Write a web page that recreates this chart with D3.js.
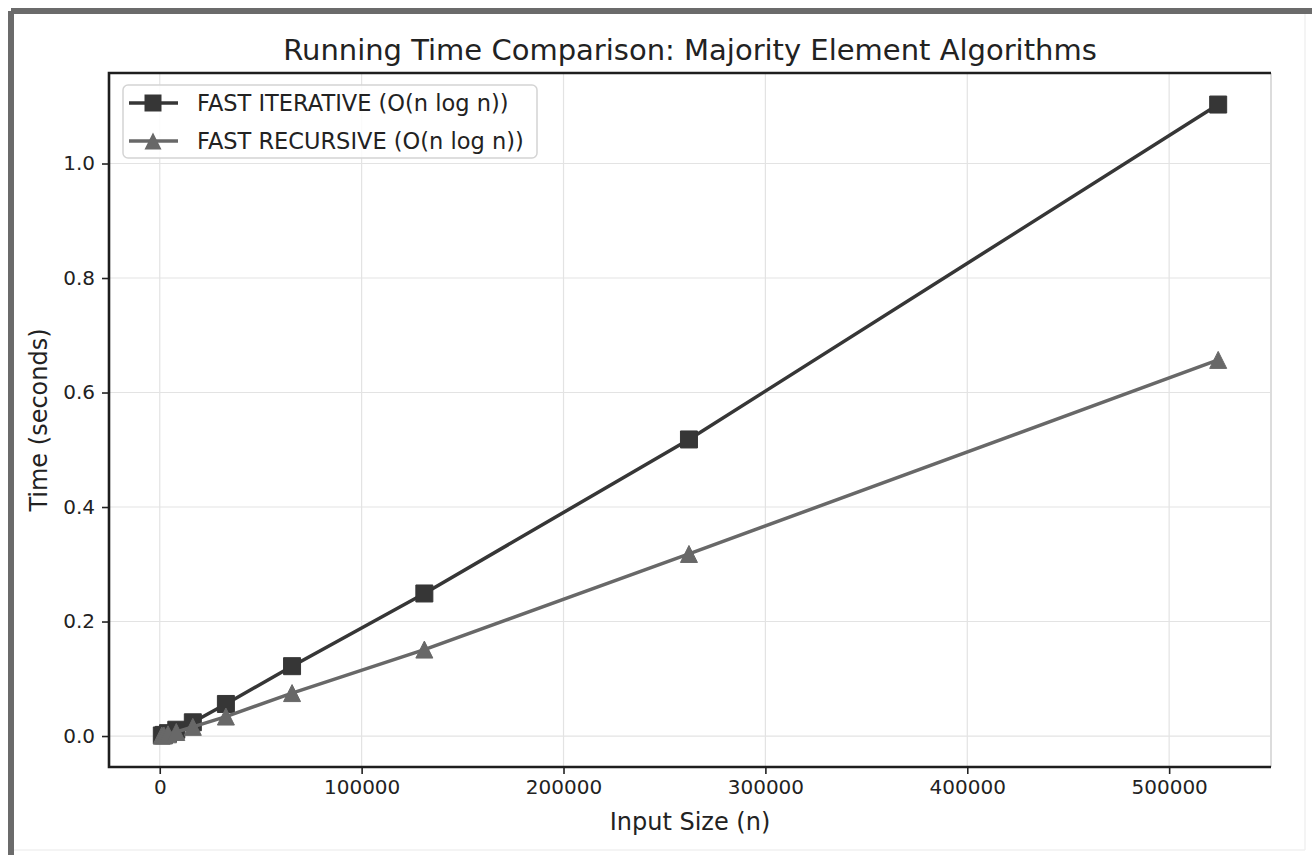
<!DOCTYPE html>
<html>
<head>
<meta charset="utf-8">
<script src="https://cdn.jsdelivr.net/npm/d3@7"></script>
<style>
  html, body { margin: 0; padding: 0; background: #fff; }
  svg { display: block; font-family: "DejaVu Sans", sans-serif; }
</style>
</head>
<body>
<div id="chart"></div>
<script>
// input sizes and timings
const sizes = [1024, 2048, 4096, 8192, 16384, 32768, 65536, 131072, 262144, 524288];
const iterTimes = [0.001, 0.002, 0.005, 0.011, 0.024, 0.056, 0.122, 0.249, 0.518, 1.103];
const recTimes = [0.001, 0.001, 0.003, 0.007, 0.016, 0.034, 0.075, 0.151, 0.318, 0.657];
const xTicks = [0, 100000, 200000, 300000, 400000, 500000];
const yTicks = [0.0, 0.2, 0.4, 0.6, 0.8, 1.0];
const seriesNames = ['FAST ITERATIVE (O(n log n))', 'FAST RECURSIVE (O(n log n))'];

const W = 1312, H = 855;
const m = { left: 109, right: 1271, top: 73, bottom: 767 };

const svg = d3.select('#chart').append('svg')
    .attr('width', W)
    .attr('height', H);

// outer frame of the screenshot
svg.append('line').attr('x1', 11).attr('y1', 11).attr('x2', W).attr('y2', 11)
    .style('stroke', '#6b6b6b').style('stroke-width', 6);
svg.append('line').attr('x1', 11).attr('y1', 11).attr('x2', 11).attr('y2', H)
    .style('stroke', '#6b6b6b').style('stroke-width', 6);
svg.append('line').attr('x1', 1305).attr('y1', 14).attr('x2', 1305).attr('y2', 850)
    .style('stroke', '#f0f0f0').style('stroke-width', 1.5);
svg.append('line').attr('x1', 14).attr('y1', 850).attr('x2', 1305).attr('y2', 850)
    .style('stroke', '#f0f0f0').style('stroke-width', 1.5);

// matplotlib style 5% margins
function padded(vals) {
    const lo = d3.min(vals), hi = d3.max(vals), p = (hi - lo) * 0.05;
    return [lo - p, hi + p];
}
const x = d3.scaleLinear().domain(padded(sizes)).range([m.left, m.right]);
const y = d3.scaleLinear().domain(padded(iterTimes.concat(recTimes))).range([m.bottom, m.top]);

// grid
const grid = svg.append('g').attr('class', 'grid');
grid.selectAll('.gx').data(xTicks).enter().append('line')
    .attr('x1', d => x(d)).attr('x2', d => x(d))
    .attr('y1', m.top).attr('y2', m.bottom)
    .style('stroke', '#e3e3e3').style('stroke-width', 1.2);
grid.selectAll('.gy').data(yTicks).enter().append('line')
    .attr('x1', m.left).attr('x2', m.right)
    .attr('y1', d => y(d)).attr('y2', d => y(d))
    .style('stroke', '#e3e3e3').style('stroke-width', 1.2);

// axes
const xAxis = svg.append('g')
    .attr('transform', 'translate(0,' + m.bottom + ')')
    .call(d3.axisBottom(x).tickValues(xTicks).tickFormat(d3.format('d')).tickSizeOuter(0).tickSize(7).tickPadding(6));
const yAxis = svg.append('g')
    .attr('transform', 'translate(' + m.left + ',0)')
    .call(d3.axisLeft(y).tickValues(yTicks).tickFormat(d3.format('.1f')).tickSizeOuter(0).tickSize(7).tickPadding(7));
[xAxis, yAxis].forEach(a => {
    a.select('.domain').remove();
    a.selectAll('line').style('stroke', '#222').style('stroke-width', 1.6);
    a.selectAll('text').style('font-size', '20px').style('fill', '#222')
        .style('font-family', '"DejaVu Sans", sans-serif');
});

// spines: right one looks faded in the original
svg.append('line').attr('x1', m.right).attr('x2', m.right).attr('y1', m.top).attr('y2', m.bottom)
    .style('stroke', '#dcdcdc').style('stroke-width', 2);
svg.append('path')
    .attr('d', 'M' + m.right + ',' + m.top + 'H' + m.left + 'V' + m.bottom + 'H' + m.right)
    .style('fill', 'none').style('stroke', '#1e1e1e').style('stroke-width', 2.6);

// series
const series = [
    { name: seriesNames[0], vals: iterTimes, color: '#363636', marker: 'square' },
    { name: seriesNames[1], vals: recTimes, color: '#686868', marker: 'triangle' }
];
const S = 17;
function markerPath(type, s) {
    const h = s / 2;
    if (type === 'square') return 'M' + (-h) + ',' + (-h) + 'H' + h + 'V' + h + 'H' + (-h) + 'Z';
    return 'M0,' + (-h) + 'L' + h + ',' + h + 'L' + (-h) + ',' + h + 'Z';
}
const line = d3.line().x(d => x(d[0])).y(d => y(d[1]));

series.forEach(s => {
    const pts = sizes.map((n, i) => [n, s.vals[i]]);
    const g = svg.append('g');
    g.append('path').datum(pts)
        .attr('d', line)
        .style('fill', 'none').style('stroke', s.color).style('stroke-width', 3.5)
        .style('stroke-linejoin', 'round');
    g.selectAll('path.mk').data(pts).enter().append('path')
        .attr('class', 'mk')
        .attr('transform', d => 'translate(' + x(d[0]) + ',' + y(d[1]) + ')')
        .attr('d', markerPath(s.marker, S))
        .style('fill', s.color).style('stroke', s.color).style('stroke-width', 1);
});

// legend
const lg = svg.append('g').attr('transform', 'translate(123,85)');
lg.append('rect').attr('width', 414).attr('height', 73).attr('rx', 5)
    .style('fill', 'rgba(255,255,255,0.85)').style('stroke', '#d4d4d4').style('stroke-width', 1.5);
series.forEach((s, i) => {
    const cy = 18 + i * 38;
    lg.append('line').attr('x1', 6).attr('x2', 55).attr('y1', cy).attr('y2', cy)
        .style('stroke', s.color).style('stroke-width', 3.5);
    lg.append('path').attr('transform', 'translate(30,' + cy + ')')
        .attr('d', markerPath(s.marker, S))
        .style('fill', s.color);
    lg.append('text').attr('x', 74).attr('y', cy + 8)
        .style('font-size', '22.5px').style('fill', '#222')
        .text(s.name);
});

// titles
svg.append('text').attr('x', (m.left + m.right) / 2).attr('y', 60)
    .attr('text-anchor', 'middle').style('font-size', '29px').style('fill', '#222')
    .text('Running Time Comparison: Majority Element Algorithms');
svg.append('text').attr('x', (m.left + m.right) / 2).attr('y', 830)
    .attr('text-anchor', 'middle').style('font-size', '24px').style('fill', '#222')
    .text('Input Size (n)');
svg.append('text')
    .attr('transform', 'translate(47,' + (m.top + m.bottom) / 2 + ') rotate(-90)')
    .attr('text-anchor', 'middle').style('font-size', '24px').style('fill', '#222')
    .text('Time (seconds)');
</script>
</body>
</html>
